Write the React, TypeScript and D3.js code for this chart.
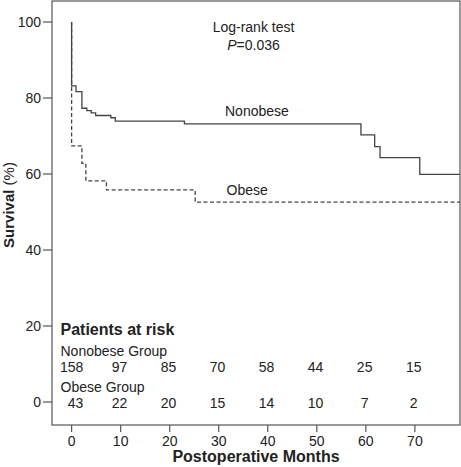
import React from "react";
import * as d3 from "d3";

// Kaplan-Meier steps: [month, survival %]
const nonobeseTimes = [0, 0, 0.9, 2.1, 3.1, 4.0, 4.9, 8.0, 8.9, 23, 59, 61.8, 62.9, 71, 79.2];
const nonobeseSurv = [100, 83.2, 81.7, 77.3, 76.7, 76.1, 75.4, 74.8, 73.9, 73.2, 70.3, 67.2, 64.3, 59.9, 59.9];
const obeseTimes = [0, 0, 2.1, 2.9, 7.1, 25.2, 79.2];
const obeseSurv = [100, 67.4, 62.8, 58.2, 55.8, 52.6, 52.6];

const xTicks = [0, 10, 20, 30, 40, 50, 60, 70];
const yTicks = [0, 20, 40, 60, 80, 100];
const nonobeseAtRisk = [158, 97, 85, 70, 58, 44, 25, 15];
const obeseAtRisk = [43, 22, 20, 15, 14, 10, 7, 2];

const W = 461;
const H = 467;
const FONT = "'Liberation Sans', Arial, Helvetica, sans-serif";

export default function App() {
  const left = 52, right = 460, top = 1, bottom = 425;
  const x = d3.scaleLinear().domain([-4, 79.2]).range([left, right]);
  const y = d3.scaleLinear().domain([0, 100]).range([402, 22]);

  const line = d3
    .line<[number, number]>()
    .x((d) => x(d[0]))
    .y((d) => y(d[1]))
    .curve(d3.curveStepAfter);

  const nonPts = nonobeseTimes.map((t, i) => [t, nonobeseSurv[i]] as [number, number]);
  const obPts = obeseTimes.map((t, i) => [t, obeseSurv[i]] as [number, number]);

  const axisColor = "#555";
  const curveColor = "#444";

  return (
    <svg
      width={W}
      height={H}
      style={{ position: "absolute", left: 0, top: 0, background: "#fff" }}
      fontFamily={FONT}
    >
      <rect x={0} y={0} width={W} height={H} fill="#fff" />
      {/* curves */}
      <path d={line(obPts) || ""} fill="none" stroke={curveColor} strokeWidth={1.3} strokeDasharray="4,2.5" />
      <path d={line(nonPts) || ""} fill="none" stroke={curveColor} strokeWidth={1.3} />

      {/* frame */}
      <rect x={left} y={top} width={right - left} height={bottom - top} fill="none" stroke={axisColor} strokeWidth={1.2} />

      {/* y axis */}
      {yTicks.map((v) => (
        <g key={"y" + v}>
          <line x1={left - 9} x2={left} y1={y(v)} y2={y(v)} stroke={axisColor} strokeWidth={1.2} />
          <text x={41} y={y(v) + 5} fontSize={14} textAnchor="end" fill="#222">
            {v}
          </text>
        </g>
      ))}
      {/* x axis */}
      {xTicks.map((v) => (
        <g key={"x" + v}>
          <line x1={x(v)} x2={x(v)} y1={bottom} y2={bottom + 7} stroke={axisColor} strokeWidth={1.2} />
          <text x={x(v)} y={445.5} fontSize={14} textAnchor="middle" fill="#222">
            {v}
          </text>
        </g>
      ))}

      {/* axis titles */}
      <text x={(left + right) / 2} y={462} fontSize={16} fontWeight="bold" textAnchor="middle" fill="#222">
        Postoperative Months
      </text>
      <text
        transform={`translate(13.5,205) rotate(-90)`}
        fontSize={15}
        textAnchor="middle"
        fill="#222"
      >
        <tspan fontWeight="bold">Survival</tspan>
        <tspan> (%)</tspan>
      </text>

      {/* annotations */}
      <text x={253.5} y={32} fontSize={14} textAnchor="middle" fill="#222">
        Log-rank test
      </text>
      <text x={253.5} y={50} fontSize={14} textAnchor="middle" fill="#222">
        <tspan fontStyle="italic">P</tspan>
        <tspan>=0.036</tspan>
      </text>
      <text x={225} y={116} fontSize={14} fill="#222">
        Nonobese
      </text>
      <text x={226.5} y={195} fontSize={14} fill="#222">
        Obese
      </text>

      {/* risk table */}
      <text x={60.5} y={335} fontSize={16} fontWeight="bold" fill="#222">
        Patients at risk
      </text>
      <text x={60.5} y={355.5} fontSize={14} fill="#222">
        Nonobese Group
      </text>
      {nonobeseAtRisk.map((n, i) => (
        <text key={"n" + i} x={x(xTicks[i]) - (i > 0 ? 1.2 : 0)} y={372.3} fontSize={14} textAnchor="middle" fill="#222">
          {n}
        </text>
      ))}
      <text x={60.5} y={391.5} fontSize={14} fill="#222">
        Obese Group
      </text>
      {obeseAtRisk.map((n, i) => (
        <text key={"o" + i} x={x(xTicks[i]) + (i === 0 ? 4 : -1.2)} y={408.3} fontSize={14} textAnchor="middle" fill="#222">
          {n}
        </text>
      ))}
    </svg>
  );
}
